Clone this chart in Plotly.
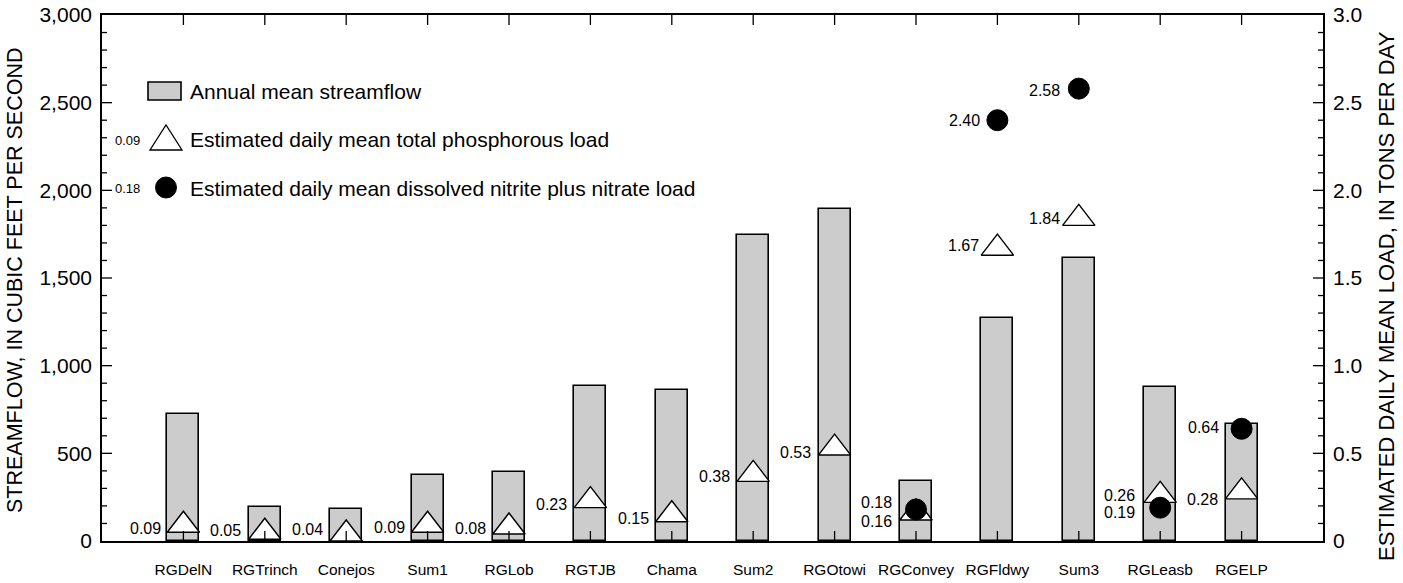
import plotly.graph_objects as go

# Stations along the river, upstream to downstream
stations = ["RGDelN", "RGTrinch", "Conejos", "Sum1", "RGLob", "RGTJB", "Chama",
            "Sum2", "RGOtowi", "RGConvey", "RGFldwy", "Sum3", "RGLeasb", "RGELP"]

# Annual mean streamflow, cubic feet per second
streamflow = [722, 196, 184, 376, 395, 883, 860, 1743, 1895, 344, 1274, 1616, 880, 667]

# Estimated daily mean loads, tons per day
phosphorus = [0.09, 0.05, 0.04, 0.09, 0.08, 0.23, 0.15, 0.38, 0.53, 0.16, 1.67, 1.84, 0.26, 0.28]
nitrate = [None, None, None, None, None, None, None, None, None, 0.18, 2.40, 2.58, 0.19, 0.64]

# Axis ticks
flow_ticks = [0, 500, 1000, 1500, 2000, 2500, 3000]
flow_ticktext = ["0", "500", "1,000", "1,500", "2,000", "2,500", "3,000"]
load_ticks = [0, 0.5, 1.0, 1.5, 2.0, 2.5, 3.0]
load_ticktext = ["0", "0.5", "1.0", "1.5", "2.0", "2.5", "3.0"]
flow_minor = [v for v in range(100, 3000, 100) if v % 500]
load_minor = [v / 10 for v in range(1, 30) if v % 5]

# Label placement (pixel offsets of each value label from its marker)
tri_label_dx = [-20, -21.5, -21.5, -21, -21, -21, -21, -21, -21.5, -22.5, -16.5, -16.5, -23, -21.5]
tri_label_dy = [-3, 1.5, 4, -2, -2, -4, -4, -2, -4, -9, 2.5, 0, 0, -8]
nit_label_dx = {9: -22.5, 10: -15.5, 11: -16.5, 12: -23, 13: -20.5}
nit_label_dy = {9: 7, 10: 0, 11: -2, 12: -5, 13: 1}

FONT = "Liberation Sans, Arial, Helvetica, sans-serif"
x_idx = list(range(len(stations)))

fig = go.Figure()

fig.add_trace(go.Bar(
    x=x_idx, y=streamflow, width=0.393,
    marker=dict(color="#cccccc", line=dict(color="black", width=1.6)),
    yaxis="y", showlegend=False, hoverinfo="skip",
))

fig.add_trace(go.Scatter(
    x=x_idx, y=phosphorus, mode="markers", yaxis="y2",
    marker=dict(symbol="triangle-up", size=28, color="white",
                line=dict(color="black", width=1.4)),
    showlegend=False, hoverinfo="skip",
))

fig.add_trace(go.Scatter(
    x=x_idx, y=nitrate, mode="markers", yaxis="y2",
    marker=dict(symbol="circle", size=21, color="black",
                line=dict(color="black", width=1)),
    showlegend=False, hoverinfo="skip",
))

annotations = []
for i, v in enumerate(phosphorus):
    annotations.append(dict(
        x=i, y=v, xref="x", yref="y2", text=f"{v:.2f}", showarrow=False,
        xanchor="right", yanchor="middle", xshift=tri_label_dx[i], yshift=tri_label_dy[i],
        font=dict(family=FONT, size=16, color="black"),
    ))
for i, v in enumerate(nitrate):
    if v is None:
        continue
    annotations.append(dict(
        x=i, y=v, xref="x", yref="y2", text=f"{v:.2f}", showarrow=False,
        xanchor="right", yanchor="middle", xshift=nit_label_dx[i], yshift=nit_label_dy[i],
        font=dict(family=FONT, size=16, color="black"),
    ))

# Plot area in pixels (for placing the key, titles and tick marks in paper units)
W, H = 1403, 583
L, R, T, B = 102, 80, 15, 42
pw, ph = W - L - R, H - T - B


def px(xp):
    return (xp - L) / pw


def py(yp):
    return (H - B - yp) / ph


# Key
legend_rows = [
    ("Annual mean streamflow", 91),
    ("Estimated daily mean total phosphorous load", 139),
    ("Estimated daily mean dissolved nitrite plus nitrate load", 188),
]
for text, yc in legend_rows:
    annotations.append(dict(
        x=px(188), y=py(yc), xref="paper", yref="paper", text=text, showarrow=False,
        xanchor="left", yanchor="middle", font=dict(family=FONT, size=21, color="black"),
    ))
for text, yc in [("0.09", 140), ("0.18", 188)]:
    annotations.append(dict(
        x=px(142), y=py(yc), xref="paper", yref="paper", text=text, showarrow=False,
        xanchor="right", yanchor="middle", font=dict(family=FONT, size=13, color="black"),
    ))

# Axis titles
annotations.append(dict(
    x=px(15), y=py(280), xref="paper", yref="paper", textangle=-90, showarrow=False,
    text="STREAMFLOW, IN CUBIC FEET PER SECOND", xanchor="center", yanchor="middle",
    font=dict(family=FONT, size=21.5, color="black"),
))
annotations.append(dict(
    x=px(1386), y=py(296), xref="paper", yref="paper", textangle=-90, showarrow=False,
    text="ESTIMATED DAILY MEAN LOAD, IN TONS PER DAY", xanchor="center", yanchor="middle",
    font=dict(family=FONT, size=22, color="black"),
))

shapes = [
    dict(type="rect", xref="paper", yref="paper",
         x0=px(148), x1=px(181), y0=py(100), y1=py(82),
         fillcolor="#cccccc", line=dict(color="black", width=1.6)),
    dict(type="path", xref="paper", yref="paper",
         path=f"M {px(150)} {py(150)} L {px(182)} {py(150)} L {px(166)} {py(125)} Z",
         fillcolor="white", line=dict(color="black", width=1.3)),
    dict(type="circle", xref="paper", yref="paper",
         x0=px(155.5), x1=px(176.5), y0=py(198), y1=py(177),
         fillcolor="black", line=dict(color="black", width=1)),
]

# Inward tick marks on all four sides of the frame
MAJ, MIN = 10, 5
tick_line = dict(color="black", width=1.3)
for i in x_idx:
    shapes.append(dict(type="line", xref="x", yref="paper", x0=i, x1=i, y0=0, y1=MAJ / ph,
                       line=tick_line, layer="above"))
    shapes.append(dict(type="line", xref="x", yref="paper", x0=i, x1=i, y0=1, y1=1 - MAJ / ph,
                       line=tick_line, layer="above"))
for v in flow_ticks[1:-1]:
    shapes.append(dict(type="line", xref="paper", yref="y", x0=0, x1=MAJ / pw, y0=v, y1=v,
                       line=tick_line, layer="above"))
for v in flow_minor:
    shapes.append(dict(type="line", xref="paper", yref="y", x0=0, x1=MIN / pw, y0=v, y1=v,
                       line=tick_line, layer="above"))
for v in load_ticks[1:-1]:
    shapes.append(dict(type="line", xref="paper", yref="y2", x0=1, x1=1 - MAJ / pw, y0=v, y1=v,
                       line=tick_line, layer="above"))
for v in load_minor:
    shapes.append(dict(type="line", xref="paper", yref="y2", x0=1, x1=1 - MIN / pw, y0=v, y1=v,
                       line=tick_line, layer="above"))

fig.update_layout(
    width=W, height=H,
    margin=dict(l=L, r=R, t=T, b=B, pad=0, autoexpand=False),
    paper_bgcolor="white", plot_bgcolor="white",
    font=dict(family=FONT, color="black"),
    bargap=0,
    xaxis=dict(
        range=[-1, len(stations)], tickmode="array", tickvals=x_idx, ticktext=stations,
        ticks="", showline=True, linecolor="black", linewidth=1.6, mirror=True,
        showgrid=False, zeroline=False, tickangle=0, automargin=False,
        tickfont=dict(family=FONT, size=15.5, color="black"),
        ticklabelstandoff=14,
    ),
    yaxis=dict(
        range=[0, 3000], tickmode="array", tickvals=flow_ticks, ticktext=flow_ticktext,
        ticks="", showline=True, linecolor="black", linewidth=1.6,
        showgrid=False, zeroline=False, automargin=False,
        tickfont=dict(family=FONT, size=21, color="black"),
        ticklabelstandoff=4,
    ),
    yaxis2=dict(
        range=[0, 3], overlaying="y", side="right", tickmode="array",
        tickvals=load_ticks, ticktext=load_ticktext,
        ticks="", showline=True, linecolor="black", linewidth=1.6,
        showgrid=False, zeroline=False, automargin=False,
        tickfont=dict(family=FONT, size=21, color="black"),
        ticklabelstandoff=4,
    ),
    annotations=annotations,
    shapes=shapes,
)

fig.write_html("out.html")
